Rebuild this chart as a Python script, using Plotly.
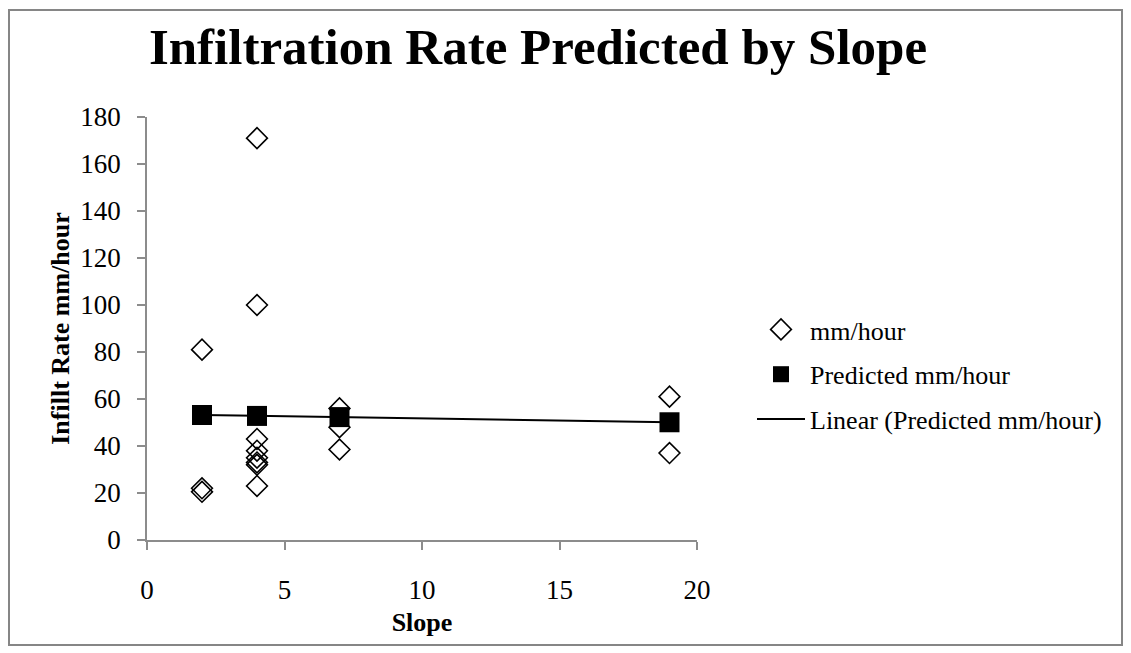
import numpy as np
import plotly.graph_objects as go

# Дані
slope_obs = [2, 2, 2,
             4, 4, 4, 4, 4, 4, 4, 4,
             7, 7, 7,
             19, 19]
rate_obs = [81, 22, 20.5,
            171, 100, 43, 38, 35, 33, 32, 23,
            56, 48, 38.5,
            61, 37]

slope_pred = [2, 4, 7, 19]
rate_pred = [53.2, 52.8, 52.3, 50.1]

# Лінійний тренд по прогнозованих значеннях (як у Excel)
k, b = np.polyfit(slope_pred, rate_pred, 1)
trend_x = [min(slope_pred), max(slope_pred)]
trend_y = [k * v + b for v in trend_x]

# сторінка має відступ 8px, тому координати фігури = екранні - 8
OFF = 8
W, H = 1123, 645
L, T = 147 - OFF, 117 - OFF
PW, PH = 550, 423
R, B = W - L - PW, H - T - PH

def px_x(p):
    return (p - OFF - L) / PW

def px_y(p):
    return (T + PH - (p - OFF)) / PH

SERIF = "Liberation Serif"
AXIS_COLOR = "#8c8c8c"

fig = go.Figure()

fig.add_trace(go.Scatter(
    x=slope_obs, y=rate_obs, mode="markers", name="mm/hour",
    marker=dict(symbol="diamond-open", size=16, color="black", line=dict(width=1.6, color="black")),
    legendgroup="a", legendrank=1,
))
fig.add_trace(go.Scatter(
    x=trend_x, y=trend_y, mode="lines", name="Linear (Predicted mm/hour)",
    line=dict(color="black", width=2),
    legendgroup="c", legendrank=3,
))
fig.add_trace(go.Scatter(
    x=slope_pred, y=rate_pred, mode="markers", name="Predicted mm/hour",
    marker=dict(symbol="square", size=20, color="black"),
    legendgroup="b", legendrank=2,
))

fig.update_layout(
    width=W, height=H,
    margin=dict(l=L, r=R, t=T, b=B, autoexpand=False),
    paper_bgcolor="white", plot_bgcolor="white",
    font=dict(family=SERIF, size=26, color="black"),
    title=dict(
        text="<b>Infiltration Rate Predicted by Slope</b>",
        font=dict(family=SERIF, size=51, color="black"),
        x=(538 - OFF) / W, xanchor="center", xref="container",
        y=1 - (46 - OFF) / H, yanchor="middle", yref="container",
    ),
    legend=dict(
        x=px_x(752), xanchor="left",
        y=px_y(306), yanchor="top",
        font=dict(family=SERIF, size=26, color="black"),
        bgcolor="rgba(0,0,0,0)",
        tracegroupgap=8, itemwidth=48,
    ),
    showlegend=True,
)

fig.update_xaxes(
    range=[0, 20], tickvals=[0, 5, 10, 15, 20],
    showgrid=False, zeroline=False,
    showline=True, linecolor=AXIS_COLOR, linewidth=1.5,
    ticks="outside", ticklen=8, tickcolor=AXIS_COLOR, tickwidth=1.5,
    tickfont=dict(family=SERIF, size=27, color="black"),
    ticklabelstandoff=17,
    title=dict(text="<b>Slope</b>", font=dict(family=SERIF, size=26, color="black"), standoff=9),
)
fig.update_yaxes(
    range=[0, 180], tickvals=list(range(0, 181, 20)),
    showgrid=False, zeroline=False,
    showline=True, linecolor=AXIS_COLOR, linewidth=1.5,
    ticks="outside", ticklen=8, tickcolor=AXIS_COLOR, tickwidth=1.5,
    tickfont=dict(family=SERIF, size=27, color="black"),
    ticklabelstandoff=11,
    title=dict(text="<b>Infillt Rate mm/hour</b>", font=dict(family=SERIF, size=26, color="black"), standoff=3),
)

# Рамка навколо всього графіка
fig.add_shape(
    type="rect", xref="paper", yref="paper",
    x0=px_x(9), x1=px_x(1122), y0=px_y(645), y1=px_y(10),
    line=dict(color="#868686", width=2), fillcolor="rgba(0,0,0,0)", layer="below",
)

fig.write_html("out.html")
